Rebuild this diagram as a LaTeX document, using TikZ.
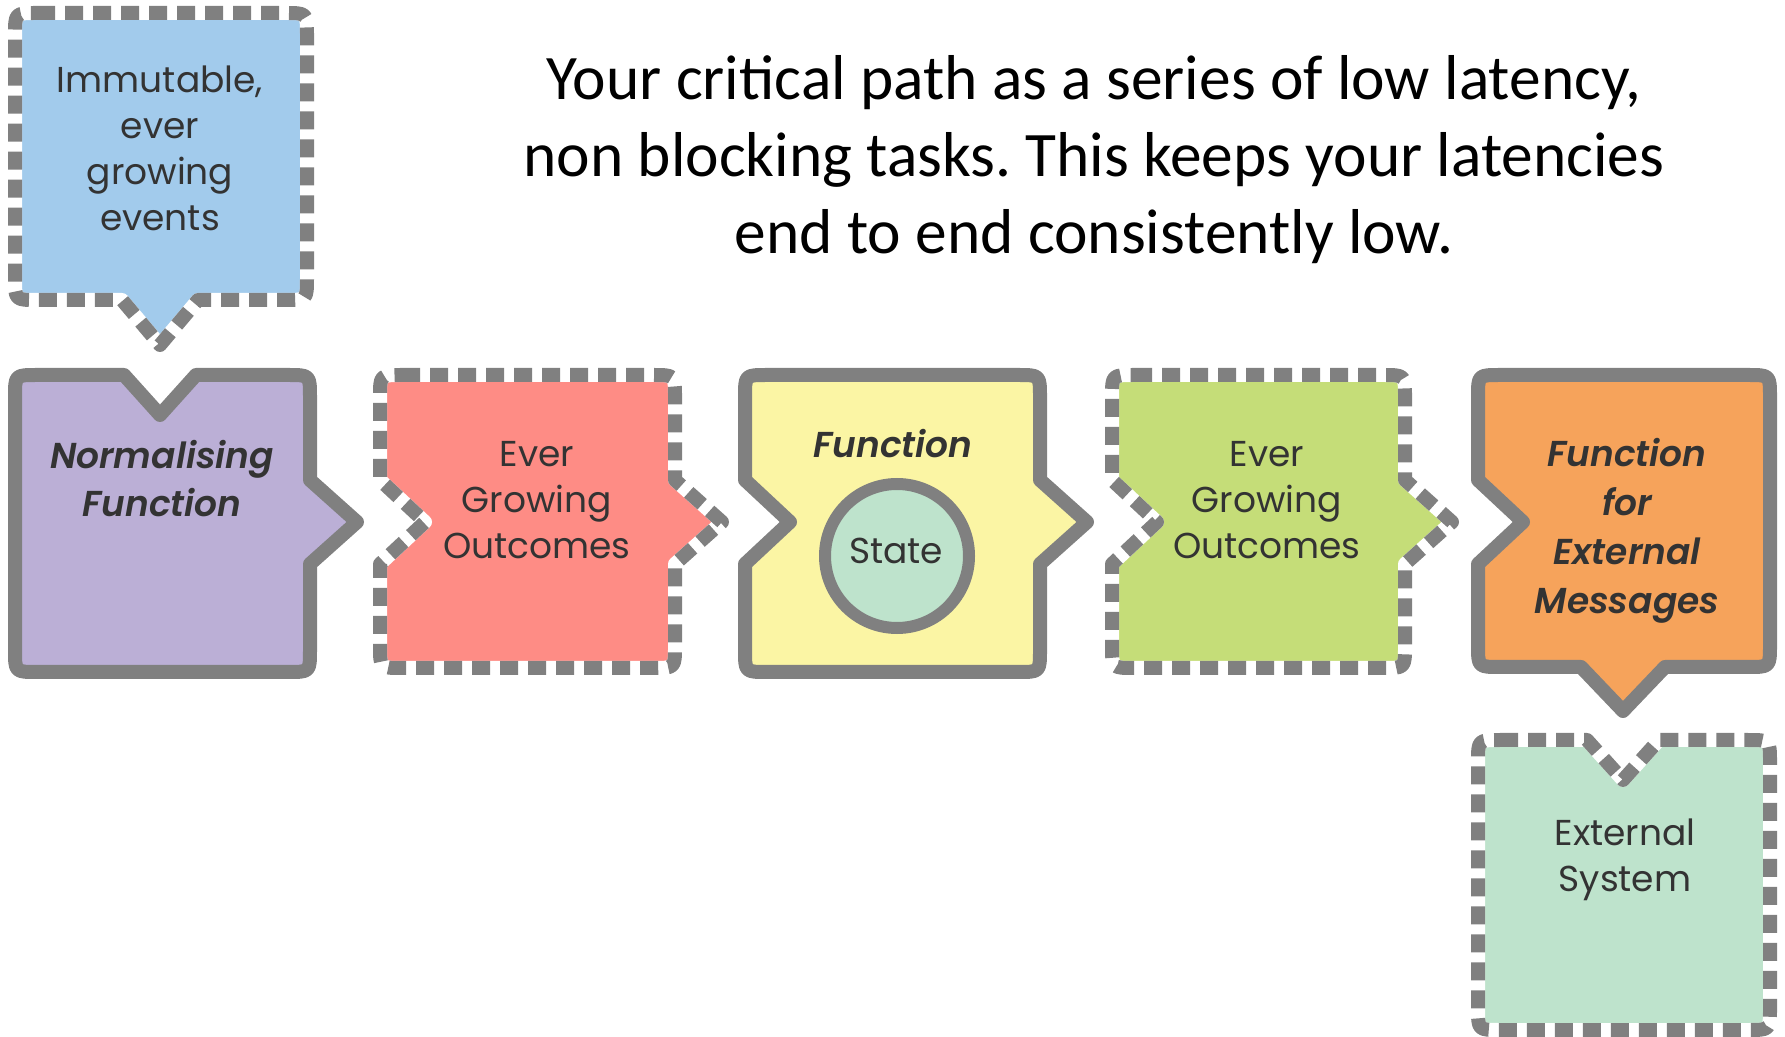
\documentclass[tikz,border=0pt]{standalone}
\usepackage{fontspec}
\setmainfont{Carlito}
\newfontfamily\boxfont{Poppins}
\newfontfamily\boxit{Poppins SemiBold Italic}
\frenchspacing
\definecolor{bordergray}{HTML}{808080}
\definecolor{textgray}{HTML}{333333}
\definecolor{cblue}{HTML}{A2CBEC}
\definecolor{cpurple}{HTML}{BBAFD6}
\definecolor{csalmon}{HTML}{FE8C85}
\definecolor{cyellow}{HTML}{FBF5A4}
\definecolor{clime}{HTML}{C5DD78}
\definecolor{corange}{HTML}{F6A35B}
\definecolor{cmint}{HTML}{BEE3CC}
% L T R B  top-piece right-piece bottom-piece left-piece
\newcommand\bxpath[8]{(#1+22,#2) #5 -- (#3-22,#2) .. controls (#3,#2) .. (#3,#2+22) #6 -- (#3,#4-22) .. controls (#3,#4) .. (#3-22,#4) #7 -- (#1+22,#4) .. controls (#1,#4) .. (#1,#4-22) #8 -- (#1,#2+22) .. controls (#1,#2) .. (#1+22,#2) -- cycle}
\tikzset{
  solidbox/.style={fill=#1, draw=bordergray, line width=7pt, line join=round},
  dashbox/.style={fill=#1, line join=round,
    postaction={draw=white, line width=7pt, line join=round},
    postaction={draw=bordergray, line width=7pt, line join=round, dash pattern=on 9pt off 5pt}},
  boxtext/.style={font=\boxfont\fontsize{18}{23}\selectfont, text=textgray, align=center, inner sep=0pt},
  boxitext/.style={font=\boxit\fontsize{18}{24}\selectfont, text=textgray, align=center, inner sep=0pt},
  statecirc/.style={circle, fill=cmint, draw=bordergray, line width=6pt, minimum size=72pt, inner sep=0pt},
}
\begin{document}
\begin{tikzpicture}[x=0.5pt, y=-0.5pt]
\useasboundingbox (0,0) rectangle (1785,1037);
% blue events box (dashed), pointer down
\path[dashbox=cblue] \bxpath{15}{13}{307}{300}{}{}{-- (198,300) -- (160,345) -- (122,300)}{};
% purple normalising function (solid)
\path[solidbox=cpurple] \bxpath{15}{375}{310}{672}{-- (124,375) -- (160,415) -- (196,375)}{-- (310,480) -- (357,522) -- (310,564)}{}{};
% red outcomes (dashed)
\path[dashbox=csalmon] \bxpath{380}{375}{675}{668}{}{-- (675,480) -- (722,522) -- (675,564)}{}{-- (380,564) -- (425,522) -- (380,480)};
% yellow function (solid)
\path[solidbox=cyellow] \bxpath{745}{375}{1040}{672}{}{-- (1040,480) -- (1087,522) -- (1040,564)}{}{-- (745,564) -- (790,522) -- (745,480)};
% green outcomes (dashed)
\path[dashbox=clime] \bxpath{1112}{375}{1405}{668}{}{-- (1405,480) -- (1452,522) -- (1405,564)}{}{-- (1112,564) -- (1157,522) -- (1112,480)};
% orange external function (solid)
\path[solidbox=corange] \bxpath{1478}{375}{1770}{667}{}{}{-- (1665,667) -- (1623,711) -- (1581,667)}{-- (1478,564) -- (1523,522) -- (1478,480)};
% mint external system (dashed)
\path[dashbox=cmint] \bxpath{1478}{740}{1770}{1030}{-- (1587,740) -- (1623,780) -- (1659,740)}{}{}{};

% texts
\node[font=\fontsize{31.7}{38.5}\selectfont, align=center, inner sep=0pt] (title) at (1094,160)
  {Your critical path as a series of low latency,\\non blocking tasks. This keeps your latencies\\end to end consistently low.};
\node[boxtext] (events) at (160,148) {Immutable,\\ever\\growing\\events};
\node[boxitext] (normfn) at (162,479) {Normalising\\Function};
\node[boxtext] (out1) at (537,500) {Ever\\Growing\\Outcomes};
\node[boxitext, anchor=base] (fn) at (893,458) {Function};
\node[statecirc] (statering) at (897,556) {};
\node[boxtext] (state) at (896,551) {State};
\node[boxtext] (out2) at (1267,500) {Ever\\Growing\\Outcomes};
\node[boxitext, font=\boxit\fontsize{18}{24.5}\selectfont] (extfn) at (1627,531) {Function\\for\\External\\Messages};
\node[boxtext] (extsys) at (1625,860) {External\\System};
\end{tikzpicture}
\end{document}
